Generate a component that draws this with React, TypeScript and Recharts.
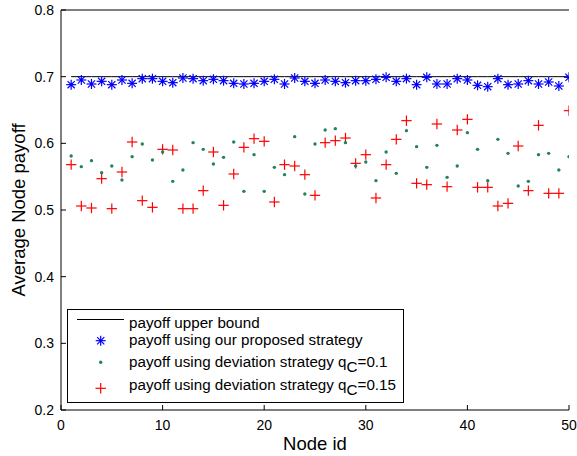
import React from 'react';
import { ComposedChart, XAxis, YAxis, Line, Scatter } from 'recharts';

const nodes = Array.from({ length: 50 }, (_, i) => i + 1);
const upperBound = nodes.map(() => 0.7);
const proposed = [
  0.688, 0.695, 0.689, 0.693, 0.688, 0.695, 0.690, 0.697, 0.697, 0.693,
  0.691, 0.698, 0.697, 0.694, 0.696, 0.694, 0.690, 0.689, 0.690, 0.693,
  0.696, 0.689, 0.698, 0.693, 0.690, 0.695, 0.693, 0.691, 0.694, 0.694,
  0.696, 0.699, 0.693, 0.697, 0.688, 0.699, 0.689, 0.689, 0.697, 0.695,
  0.687, 0.685, 0.697, 0.688, 0.689, 0.694, 0.689, 0.692, 0.686, 0.699,
];
const deviation01 = [
  0.581, 0.565, 0.574, 0.556, 0.566, 0.545, 0.580, 0.599, 0.575, 0.587,
  0.543, 0.560, 0.601, 0.591, 0.569, 0.579, 0.602, 0.528, 0.583, 0.528,
  0.564, 0.553, 0.610, 0.524, 0.599, 0.620, 0.622, 0.601, 0.566, 0.572,
  0.544, 0.587, 0.555, 0.619, 0.595, 0.564, 0.597, 0.549, 0.566, 0.616,
  0.591, 0.544, 0.606, 0.585, 0.536, 0.543, 0.583, 0.585, 0.560, 0.580,
];
const deviation015 = [
  0.568, 0.506, 0.503, 0.547, 0.502, 0.557, 0.602, 0.514, 0.504, 0.591,
  0.590, 0.502, 0.502, 0.529, 0.587, 0.507, 0.554, 0.594, 0.607, 0.603,
  0.512, 0.568, 0.566, 0.553, 0.522, 0.601, 0.604, 0.608, 0.570, 0.583,
  0.518, 0.568, 0.606, 0.634, 0.540, 0.538, 0.629, 0.535, 0.620, 0.636,
  0.534, 0.534, 0.506, 0.510, 0.596, 0.529, 0.627, 0.525, 0.525, 0.649,
];
const xTicks = [0, 10, 20, 30, 40, 50];
const yTicks = [0.2, 0.3, 0.4, 0.5, 0.6, 0.7, 0.8];

const boundData = nodes.map((n, i) => ({ node: n, bound: upperBound[i] }));
const propData = nodes.map((n, i) => ({ node: n, v: proposed[i] }));
const dev01Data = nodes.map((n, i) => ({ node: n, v: deviation01[i] }));
const dev015Data = nodes.map((n, i) => ({ node: n, v: deviation015[i] }));

const BLUE = '#0000ff';
const GREEN = '#23835a';
const RED = '#ff0000';
const FONT = '"Liberation Sans", Arial, Helvetica, sans-serif';

const Star = ({ cx, cy }: any) => {
  if (cx == null || cy == null) return null;
  const r = 5;
  const d = r * 0.72;
  return (
    <g stroke={BLUE} strokeWidth={1.2} fill="none">
      <line x1={cx - r} y1={cy} x2={cx + r} y2={cy} />
      <line x1={cx} y1={cy - r} x2={cx} y2={cy + r} />
      <line x1={cx - d} y1={cy - d} x2={cx + d} y2={cy + d} />
      <line x1={cx - d} y1={cy + d} x2={cx + d} y2={cy - d} />
      <circle cx={cx} cy={cy} r={1.3} fill={BLUE} stroke="none" />
    </g>
  );
};

const Dot = ({ cx, cy }: any) => {
  if (cx == null || cy == null) return null;
  return <circle cx={cx} cy={cy} r={1.7} fill={GREEN} stroke="none" />;
};

const Plus = ({ cx, cy }: any) => {
  if (cx == null || cy == null) return null;
  const r = 5.2;
  return (
    <g stroke={RED} strokeWidth={1.2}>
      <line x1={cx - r} y1={cy} x2={cx + r} y2={cy} />
      <line x1={cx} y1={cy - r} x2={cx} y2={cy + r} />
    </g>
  );
};

const EmptyTick = () => <g />;

const LegendBox = () => (
  <div
    style={{
      position: 'absolute',
      left: 67,
      top: 309,
      width: 335,
      height: 92,
      border: '1px solid #000',
      background: '#fff',
    }}
  >
    <svg width={335} height={92} style={{ display: 'block' }}>
      <line x1={9} y1={9.5} x2={56} y2={9.5} stroke="#000" strokeWidth={1} />
      <Star cx={32.7} cy={30.7} />
      <Dot cx={32.7} cy={52.3} />
      <Plus cx={32.7} cy={78.3} />
      <g fontFamily={FONT} fontSize={15.2} fill="#000">
        <text x={61} y={17.7}>payoff upper bound</text>
        <text x={61} y={35}>payoff using our proposed strategy</text>
        <text x={61} y={56.7}>
          payoff using deviation strategy q<tspan dy={5}>C</tspan>
          <tspan dy={-5}>=0.1</tspan>
        </text>
        <text x={61} y={80}>
          payoff using deviation strategy q<tspan dy={5}>C</tspan>
          <tspan dy={-5}>=0.15</tspan>
        </text>
      </g>
    </svg>
  </div>
);

const YLabel = ({ viewBox }: any) => {
  const cy = viewBox.y + viewBox.height / 2;
  const cx = 18;
  return (
    <text
      x={cx}
      y={cy}
      transform={`rotate(-90, ${cx}, ${cy})`}
      textAnchor="middle"
      dominantBaseline="central"
      fontFamily={FONT}
      fontSize={18.5}
      fill="#000"
    >
      Average Node payoff
    </text>
  );
};

export default function App() {
  const tickStyle = { fontFamily: FONT, fontSize: 14, fill: '#000' };
  return (
    <div style={{ position: 'absolute', left: 0, top: 0, width: 577, height: 456, background: '#fff' }}>
      <ComposedChart width={577} height={456} margin={{ top: 9, right: 8, left: 0, bottom: 0 }}>
        <XAxis
          dataKey="node"
          type="number"
          domain={[0, 50]}
          ticks={xTicks}
          height={46}
          tickSize={-5}
          tickMargin={15}
          tick={tickStyle}
          axisLine={{ stroke: '#000' }}
          tickLine={{ stroke: '#000' }}
          allowDataOverflow
          label={{ value: 'Node id', position: 'insideBottom', offset: 6, style: { fontFamily: FONT, fontSize: 18.5, fill: '#000' } }}
        />
        <XAxis
          xAxisId="top"
          orientation="top"
          type="number"
          domain={[0, 50]}
          ticks={xTicks}
          height={1}
          tickSize={-5}
          tick={<EmptyTick />}
          axisLine={{ stroke: '#000' }}
          tickLine={{ stroke: '#000' }}
          allowDataOverflow
        />
        <YAxis
          type="number"
          domain={[0.2, 0.8]}
          ticks={yTicks}
          width={61}
          tickSize={-5}
          tickMargin={12}
          tick={tickStyle}
          tickFormatter={(v: number) => v.toFixed(1)}
          axisLine={{ stroke: '#000' }}
          tickLine={{ stroke: '#000' }}
          allowDataOverflow
          label={<YLabel />}
        />
        <YAxis
          yAxisId="right"
          orientation="right"
          type="number"
          domain={[0.2, 0.8]}
          ticks={yTicks}
          width={0}
          tickSize={-5}
          tick={<EmptyTick />}
          axisLine={{ stroke: '#000' }}
          tickLine={{ stroke: '#000' }}
          allowDataOverflow
        />
        <Line
          data={boundData}
          dataKey="bound"
          stroke="#000"
          strokeWidth={1}
          dot={false}
          activeDot={false}
          isAnimationActive={false}
          legendType="none"
        />
        <Scatter data={dev015Data} dataKey="v" shape={<Plus />} isAnimationActive={false} legendType="none" />
        <Scatter data={dev01Data} dataKey="v" shape={<Dot />} isAnimationActive={false} legendType="none" />
        <Scatter data={propData} dataKey="v" shape={<Star />} isAnimationActive={false} legendType="none" />
      </ComposedChart>
      <LegendBox />
    </div>
  );
}
